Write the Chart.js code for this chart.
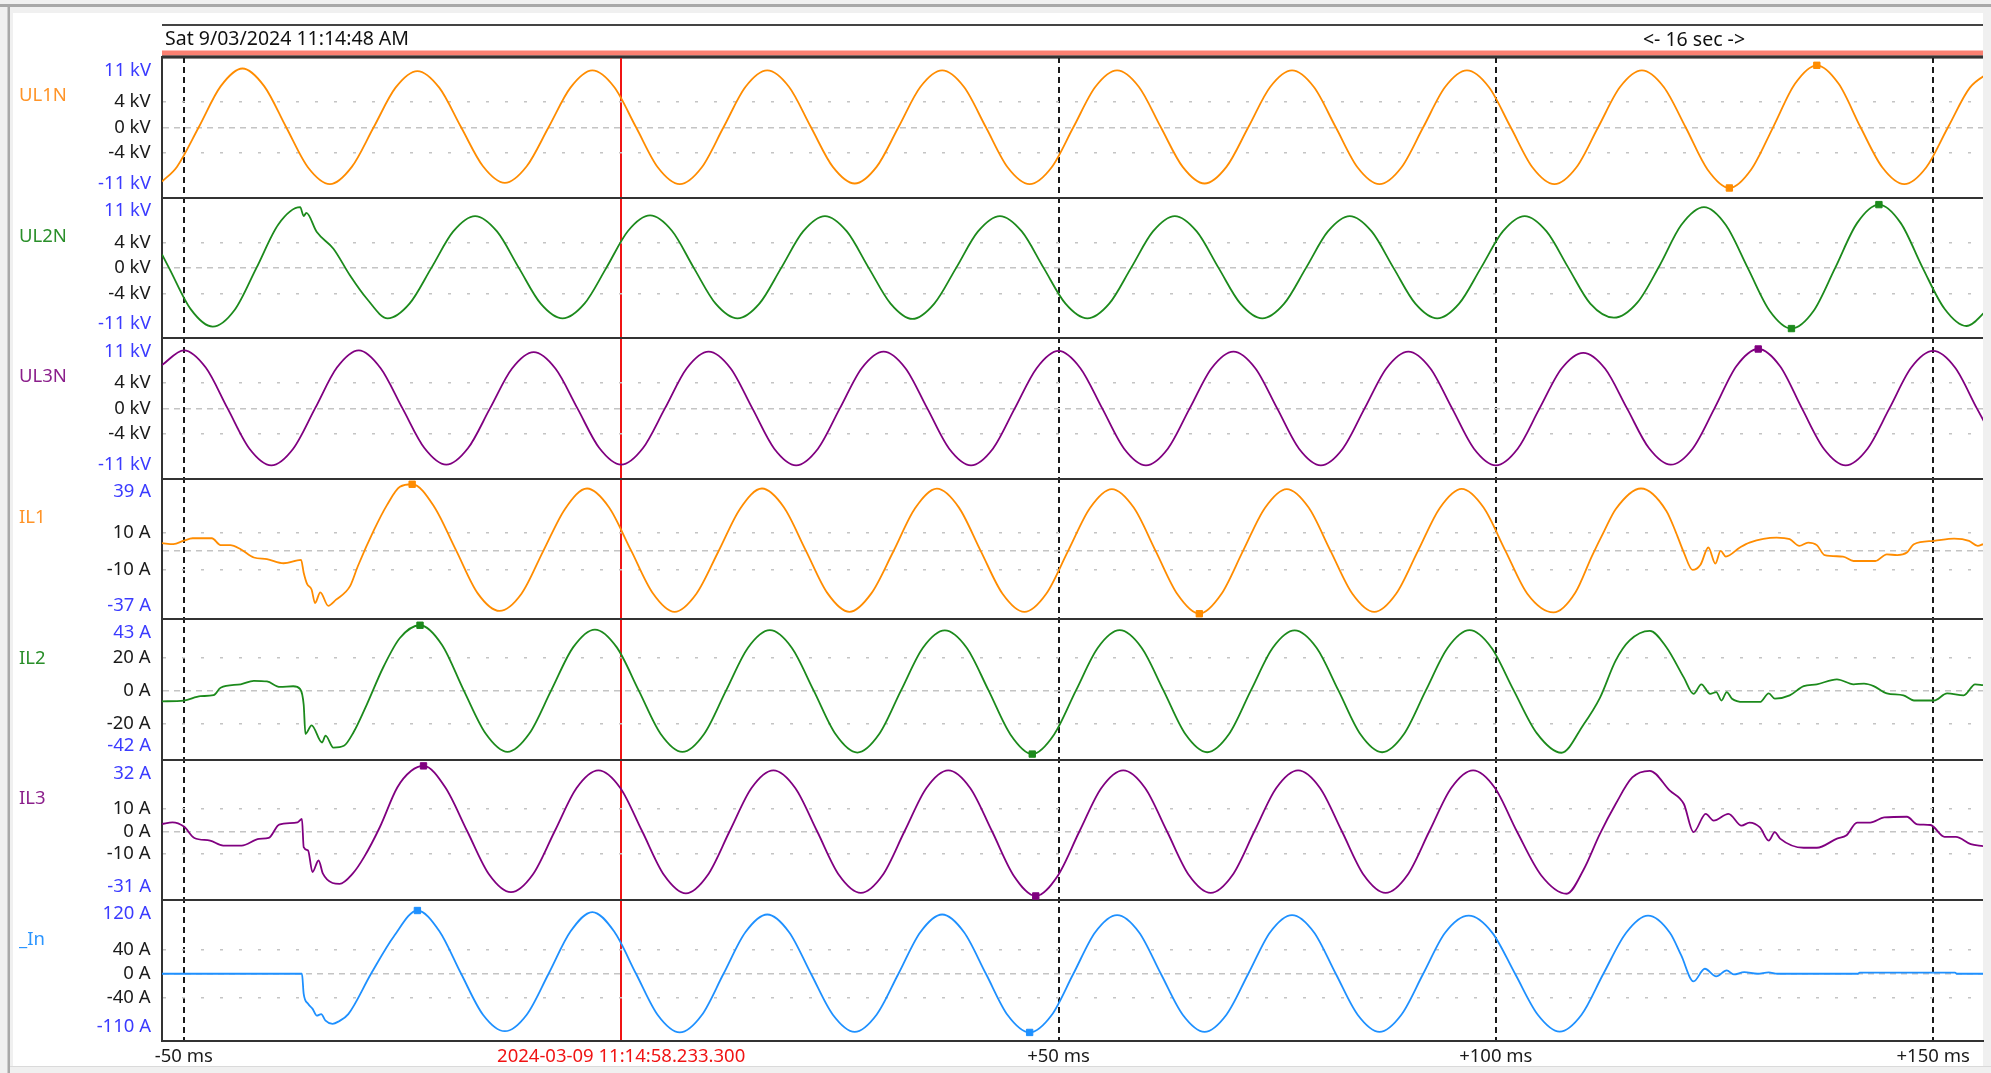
<!DOCTYPE html>
<html>
<head>
  <title>Disturbance record 2024-03-09</title>
  <script src="https://cdn.jsdelivr.net/npm/chart.js"></script>
  <style>
    body {
      margin: 0;
      background-color: #f0f0f0;
      overflow: hidden;
    }
    #scope {
      position: absolute;
      left: 0;
      top: 0;
    }
  </style>
</head>
<body>
  <canvas id="scope" width="1991" height="1073"></canvas>

  <script>
    // time axis, ms relative to the trigger
    const xTicks = [-50, 0, 50, 100, 150];
    const xTickLabels = ['-50 ms', '2024-03-09 11:14:58.233.300', '+50 ms', '+100 ms', '+150 ms'];
    const headerLeft = 'Sat 9/03/2024 11:14:48 AM';
    const headerRight = '<- 16 sec ->';

    const channels = ['UL1N', 'UL2N', 'UL3N', 'IL1', 'IL2', 'IL3', '_In'];
    const units = ['kV', 'kV', 'kV', 'A', 'A', 'A', 'A'];
    const yMax = [11, 11, 11, 39, 43, 32, 120];
    const yMin = [-11, -11, -11, -37, -42, -31, -110];
    const yStep = [4, 4, 4, 10, 20, 10, 40];
    // IL1 has no "0 A" text, only its dashed line
    const zeroLabel = [true, true, true, false, true, true, true];

    // UL1N (kV)
    const ul1nTime = [-52.5, -50.8, -48.3, -45.8, -43.3, -40.8, -38.3, -35.8, -33.3, -30.8,
      -28.3, -25.8, -23.3, -20.8, -18.3, -15.8, -13.3, -10.8, -8.3, -5.8,
      -3.3, -0.8, 1.7, 4.2, 6.7, 9.2, 11.7, 14.2, 16.7, 19.2,
      21.7, 24.2, 26.7, 29.2, 31.7, 34.2, 36.7, 39.2, 41.7, 44.2,
      46.7, 49.2, 51.7, 54.2, 56.7, 59.2, 61.7, 64.2, 66.7, 69.2,
      71.7, 74.2, 76.7, 79.2, 81.7, 84.2, 86.7, 89.2, 91.7, 94.2,
      96.7, 99.2, 101.7, 104.2, 106.7, 109.2, 111.7, 114.2, 116.7, 119.2,
      121.7, 124.2, 126.7, 129.2, 131.7, 134.2, 136.7, 139.2, 141.7, 144.2,
      146.7, 149.2, 151.7, 154.2, 156.7];
    const ul1nKV = [-8.5, -6.2, 0, 6.4, 9.2, 6.4, 0, -6.3, -8.9, -6.2,
      0, 6.2, 8.8, 6.2, 0, -6.1, -8.7, -6.1, 0, 6.2,
      8.9, 6.3, 0, -6.3, -8.9, -6.3, 0, 6.3, 8.9, 6.3,
      0, -6.2, -8.8, -6.2, 0, 6.3, 8.9, 6.3, 0, -6.3,
      -8.9, -6.3, 0, 6.3, 8.9, 6.3, 0, -6.2, -8.8, -6.2,
      0, 6.3, 8.9, 6.3, 0, -6.3, -8.9, -6.3, 0, 6.3,
      8.9, 6.3, 0, -6.3, -8.9, -6.3, 0, 6.3, 8.9, 6.3,
      0, -6.6, -9.5, -6.6, 0, 6.8, 9.7, 6.8, 0, -6.3,
      -8.9, -6.3, 0, 6.2, 8.8];
    const ul1nMarks = [126.7, 136.7];

    // UL2N (kV)
    const ul2nTime = [-52.5, -51.7, -49.2, -46.7, -44.2, -41.7, -39.2, -36.7, -36.3, -36.0,
      -34.8, -32.9, -31.0, -29.1, -26.7, -24.2, -21.7, -19.2, -16.7, -14.2,
      -11.7, -9.2, -6.7, -4.2, -1.7, 0.8, 3.3, 5.8, 8.3, 10.8,
      13.3, 15.8, 18.3, 20.8, 23.3, 25.8, 28.3, 30.8, 33.3, 35.8,
      38.3, 40.8, 43.3, 45.8, 48.3, 50.8, 53.3, 55.8, 58.3, 60.8,
      63.3, 65.8, 68.3, 70.8, 73.3, 75.8, 78.3, 80.8, 83.3, 85.8,
      88.3, 90.8, 93.3, 95.8, 98.3, 100.8, 103.3, 105.8, 108.3, 110.8,
      113.5, 116.2, 118.7, 121.2, 123.8, 126.3, 128.8, 131.3, 133.8, 136.3,
      138.8, 141.3, 143.8, 146.3, 148.8, 151.3, 153.8, 156.3];
    const ul2nKV = [2.1, 0, -6.5, -9.2, -6.6, 0, 6.8, 9.5, 8.1, 8.6,
      5.6, 3.0, -1.2, -4.8, -7.9, -5.6, 0, 5.7, 8.1, 5.7,
      0, -5.6, -7.9, -5.6, 0, 5.8, 8.2, 5.8, 0, -5.6,
      -7.9, -5.6, 0, 5.7, 8.1, 5.7, 0, -5.6, -8.0, -5.6,
      0, 5.7, 8.1, 5.7, 0, -5.6, -7.9, -5.6, 0, 5.7,
      8.1, 5.7, 0, -5.6, -7.9, -5.6, 0, 5.7, 8.1, 5.7,
      0, -5.6, -7.9, -5.6, 0, 5.7, 8.1, 5.7, 0, -5.6,
      -7.8, -5.4, 0.3, 6.7, 9.5, 6.7, 0, -6.7, -9.5, -6.8,
      0, 7.0, 9.9, 7.0, 0, -6.4, -9.1, -6.4];
    const ul2nMarks = [133.8, 143.8];

    // UL3N (kV)
    const ul3nTime = [-52.5, -50, -47.5, -45, -42.5, -40, -37.5, -35, -32.5,
      -30, -27.5, -25, -22.5, -20, -17.5, -15, -12.5,
      -10, -7.5, -5, -2.5, 0, 2.5, 5, 7.5,
      10, 12.5, 15, 17.5, 20, 22.5, 25, 27.5,
      30, 32.5, 35, 37.5, 40, 42.5, 45, 47.5,
      50, 52.5, 55, 57.5, 60, 62.5, 65, 67.5,
      70, 72.5, 75, 77.5, 80, 82.5, 85, 87.5,
      90, 92.5, 95, 97.5, 100, 102.5, 105, 107.5,
      110, 112.5, 115, 117.5, 120, 122.5, 125, 127.5,
      130, 132.5, 135, 137.5, 140, 142.5, 145, 147.5,
      150, 152.5, 155, 157.5];
    const ul3nKV = [6.8, 9.1, 6.4, 0, -6.3, -8.9, -6.3, 0, 6.4,
      9.1, 6.3, 0, -6.2, -8.8, -6.2, 0, 6.2,
      8.8, 6.2, 0, -6.2, -8.8, -6.2, 0, 6.3,
      8.9, 6.3, 0, -6.3, -8.9, -6.3, 0, 6.3,
      8.9, 6.3, 0, -6.3, -8.9, -6.3, 0, 6.3,
      9.0, 6.3, 0, -6.3, -8.9, -6.3, 0, 6.3,
      8.9, 6.3, 0, -6.3, -8.9, -6.3, 0, 6.3,
      8.9, 6.3, 0, -6.3, -8.9, -6.3, 0, 6.2,
      8.7, 6.2, 0, -6.2, -8.8, -6.3, 0, 6.6,
      9.3, 6.6, 0, -6.3, -8.9, -6.3, 0, 6.4,
      9.0, 6.4, 0, -6.3];
    const ul3nMarks = [130];

    // IL1 (A)
    const il1Time = [-52.5, -51.2, -50, -49, -46.8, -45.8, -44.7, -43.5, -42, -40.5,
      -38.6, -36.6, -36.3, -35.9, -35.4, -35, -34.4, -33.5, -32.6, -31,
      -30.1, -28.3, -26.8, -25.3,
      -23.9, -21.4, -18.9, -16.4, -13.9, -11.4, -8.9, -6.4,
      -3.9, -1.4, 1.1, 3.6, 6.1, 8.6, 11.1, 13.6,
      16.1, 18.6, 21.1, 23.6, 26.1, 28.6, 31.1, 33.6,
      36.1, 38.6, 41.1, 43.6, 46.1, 48.6, 51.1, 53.6,
      56.1, 58.6, 61.1, 63.6, 66.1, 68.6, 71.1, 73.6,
      76.1, 78.6, 81.1, 83.6, 86.1, 88.6, 91.1, 93.6,
      96.1, 98.6, 101.1, 103.6, 106.6,
      109.1, 111, 112.4, 113.7, 116.6, 119.5, 120.6, 121.5, 122.5, 123.4,
      124.3, 125.1, 125.7, 126.3, 127.9, 129, 132.1, 133.6, 134.7, 135.7,
      136.7, 137.6, 139.7, 140.9, 143.4, 144.7, 145.9, 147, 147.8, 150.1,
      152.4, 154.1, 155.1, 155.7];
    const il1Amp = [4.2, 3.6, 5.5, 6.8, 6.8, 3.1, 3.1, 0.9, -3.6, -4.5,
      -6.7, -4.9, -11.8, -18, -20.9, -28.2, -22.4, -29.7, -26.4, -19.1,
      -8.2, 10.9, 24.6, 34.6,
      36.0, 24.0, 0.5, -23.0, -32.5, -23.2, 0, 22.8,
      33.7, 23.6, 0.5, -22.8, -33.0, -23.2, -0.5, 22.8,
      33.7, 23.6, 0.3, -23.0, -33.0, -23.0, -0.5, 23.0,
      33.6, 23.5, 0, -23.2, -33.0, -23.2, 0, 23.2,
      33.4, 23.4, 0, -23.5, -34.0, -23.5, 0, 23.2,
      33.4, 23.4, 0, -23.2, -33.0, -23.2, 0, 23.2,
      33.5, 23.4, 0, -23.2, -33.3,
      -22.5, -2.7, 10.8, 22.5, 33.7, 21.6, 9.9, -0.9, -10.3, -7.5,
      1.8, -6.9, 0, -3.1, 1.8, 4.5, 7.2, 6.3, 2.7, 4.5,
      3.1, -2.3, -3.1, -5.5, -5.5, -1.9, -2.3, -0.9, 3.6, 5.4,
      6.6, 5.4, 2.7, 3.6];
    const il1Marks = [-23.9, 66.1];

    // IL2 (A)
    const il2Time = [-52.5, -50, -48.1, -46.6, -45.8, -43.5, -42, -40.5, -39, -37.5,
      -36.7, -36.3, -36.1, -35.4, -34.2, -33.8, -32.9, -31.7, -30.6, -29.1,
      -27.2, -25.3,
      -23, -20.5, -18, -15.5, -13, -10.5, -8, -5.5,
      -3, -0.5, 2, 4.5, 7, 9.5, 12, 14.5,
      17, 19.5, 22, 24.5, 27, 29.5, 32, 34.5,
      37, 39.5, 42, 44.5, 47, 49.5, 52, 54.5,
      57, 59.5, 62, 64.5, 67, 69.5, 72, 74.5,
      77, 79.5, 82, 84.5, 87, 89.5, 92, 94.5,
      97, 99.5, 102, 104.7, 107.5,
      110, 111.9, 113.7, 115.3, 117.6, 119.5, 121.5, 122.6, 123.5, 124.5,
      125.2, 125.8, 126.4, 127, 128.3, 130.2, 131.2, 131.9, 133.6, 135.2,
      136.7, 139, 140.9, 142.1, 143.2, 144.7, 146.6, 147.8, 150.1, 151.6,
      153.5, 154.8, 155.7];
    const il2Amp = [-6.6, -6.2, -3.5, -2.9, 1.6, 3.7, 5.8, 5.4, 2.1, 2.5,
      0.8, -8.7, -26.3, -21.1, -31.5, -27.3, -34.6, -33.5, -25.3, -8.7,
      14, 31.7,
      39.4, 27.6, 0, -26.1, -37.2, -26.1, 0, 26.0,
      36.8, 26.0, 0, -26.2, -37.2, -26.2, 0, 25.8,
      36.4, 25.8, 0, -26.4, -37.6, -26.4, 0, 25.8,
      36.3, 25.8, 0, -26.6, -38.5, -26.6, 0, 25.8,
      36.4, 25.8, 0, -26.4, -37.4, -26.4, 0, 25.8,
      36.3, 25.8, 0, -26.4, -37.4, -26.4, 0, 25.8,
      36.4, 25.8, 0.5, -26.0, -37.7,
      -20.9, -4.5, 18, 30.2, 36, 26.1, 7.7, -2.1, 3.7, -2.1,
      -1, -6.1, -1, -5, -7, -7, -1.8, -5, -3, 2.6,
      3.7, 6.7, 3.7, 4.1, 2.6, -1.8, -3, -6.1, -6.1, -1.8,
      -3, 3.7, 3.2];
    const il2Marks = [-23, 47];

    // IL3 (A)
    const il3Time = [-52.5, -51.3, -50, -48.8, -47, -45.5, -43.4, -41.4, -40.3, -39.1,
      -37, -36.5, -36.3, -35.8, -35.3, -34.6, -34.1, -33, -32.2, -30.7,
      -29.4, -27.6, -25.6, -24,
      -22.6, -20.1, -17.6, -15.1, -12.6, -10.1, -7.6, -5.1,
      -2.6, -0.1, 2.4, 4.9, 7.4, 9.9, 12.4, 14.9,
      17.4, 19.9, 22.4, 24.9, 27.4, 29.9, 32.4, 34.9,
      37.4, 39.9, 42.4, 44.9, 47.4, 49.9, 52.4, 54.9,
      57.4, 59.9, 62.4, 64.9, 67.4, 69.9, 72.4, 74.9,
      77.4, 79.9, 82.4, 84.9, 87.4, 89.9, 92.4, 94.9,
      97.4, 99.9, 102.4, 105.2, 108.1,
      110, 111.9, 113.7, 115.6, 117.6, 119.9, 121.5, 122.6, 124, 124.9,
      126.6, 128.1, 129, 130.2, 131.2, 131.9, 132.5, 135.2, 136.7, 139,
      140.1, 141.3, 142.8, 144.4, 147, 148.2, 149.7, 151.3, 152.6, 154.3,
      155.7];
    const il3Amp = [3.3, 4.0, 2.1, -3.0, -4.2, -6.4, -6.4, -3.4, -3.0, 3.0,
      4.0, 5.5, -7.1, -8.6, -18.3, -13.1, -19, -23.2, -23.6, -19,
      -11.6, 1.8, 19.6, 27.1,
      29.3, 19.6, 0, -19.4, -27.3, -19.4, 0, 19.4,
      27.3, 19.4, 0, -19.6, -27.8, -19.6, 0, 19.4,
      27.3, 19.4, 0, -19.6, -27.6, -19.6, 0, 19.4,
      27.3, 19.4, 0, -20.0, -29.0, -20.0, 0, 19.4,
      27.3, 19.4, 0, -19.6, -27.6, -19.6, 0, 19.4,
      27.3, 19.4, 0, -19.6, -27.6, -19.6, 0, 19.4,
      27.3, 19.4, 0, -19.8, -28.0,
      -17.5, -1.2, 12.2, 24.1, 27.1, 18.2, 12.2, -0.4, 7.8, 4.8,
      7.8, 2.5, 3.9, 1.7, -4.2, -0.4, -3.3, -7.4, -7.4, -3.3,
      -1.8, 3.9, 3.9, 6.2, 6.5, 3.1, 2.8, -2.5, -2.5, -5.8,
      -6.7];
    const il3Marks = [-22.6, 47.4];

    // _In (A)
    const inTime = [-52.5, -36.5, -36.3, -35.8, -35.3, -34.8, -34.3, -33.8, -33, -32.3,
      -31.2, -28.6, -26,
      -23.3, -20.8, -18.3, -15.8, -13.3, -10.8, -8.3, -5.8,
      -3.3, -0.8, 1.7, 4.2, 6.7, 9.2, 11.7, 14.2,
      16.7, 19.2, 21.7, 24.2, 26.7, 29.2, 31.7, 34.2,
      36.7, 39.2, 41.7, 44.2, 46.7, 49.2, 51.7, 54.2,
      56.7, 59.2, 61.7, 64.2, 66.7, 69.2, 71.7, 74.2,
      76.7, 79.2, 81.7, 84.2, 86.7, 89.2, 91.7, 94.2,
      96.9, 99.6, 102.2, 104.8, 107.3, 109.8, 112.3, 114.9,
      117.4, 119.9, 121.2,
      122.6, 123.9, 125.2, 126.4, 127.2, 128.4, 129.9, 131.2, 132.2, 141.4,
      141.6, 152.5, 152.7, 155.7];
    const inAmp = [0, 0, -32.8, -49, -57, -68.5, -66, -76.7, -82, -78,
      -66, 0, 61,
      103.5, 70, 0, -67, -94, -67, 0, 69,
      101, 69, 0, -68, -96, -68, 0, 68,
      97, 68, 0, -67, -95, -67, 0, 68,
      97, 68, 0, -68, -96, -68, 0, 68,
      96, 68, 0, -67, -95, -67, 0, 68,
      96, 68, 0, -67, -95, -67, 0, 67,
      95, 67, 0, -67, -94.6, -67, 0, 67,
      95, 67, 30,
      -12.6, 8.2, -4.4, 5.5, -1.1, 2.7, 0, 2.2, 0, 0,
      2, 2, 0, 0];
    const inMarks = [-23.3, 46.7];

    const series = [
      { t: ul1nTime, v: ul1nKV, marks: ul1nMarks },
      { t: ul2nTime, v: ul2nKV, marks: ul2nMarks },
      { t: ul3nTime, v: ul3nKV, marks: ul3nMarks },
      { t: il1Time, v: il1Amp, marks: il1Marks },
      { t: il2Time, v: il2Amp, marks: il2Marks },
      { t: il3Time, v: il3Amp, marks: il3Marks },
      { t: inTime, v: inAmp, marks: inMarks },
    ];

    const lineColors = ['#ff8c00', '#1c8a1c', '#800080', '#ff8c00', '#1c8a1c', '#800080', '#1e90ff'];
    const nameColors = ['#ff9428', '#2a8f2a', '#8b1f8b', '#ff9428', '#2a8f2a', '#8b1f8b', '#2b95ff'];
    const rangeColor = '#3b3bff';
    const triggerColor = '#f01414';
    const labelFont = { family: 'Noto Sans', size: 18.5 };

    Chart.defaults.font.family = 'Noto Sans';

    // window frame, header strip, channel names and range labels
    const scopeFrame = {
      id: 'scopeFrame',
      beforeDraw(chart) {
        const ctx = chart.ctx;
        const area = chart.chartArea;
        ctx.save();
        ctx.fillStyle = '#f0f0f0';
        ctx.fillRect(0, 0, chart.width, chart.height);
        ctx.fillStyle = '#ffffff';
        ctx.fillRect(13, 13, area.right - 13, 1053);
        ctx.fillStyle = '#a8a8a8';
        ctx.fillRect(0, 4, chart.width, 3);
        ctx.fillRect(7.5, 4, 2.5, chart.height - 4);
        ctx.fillStyle = '#dadada';
        ctx.fillRect(10, 1066, chart.width - 10, 1);

        ctx.strokeStyle = '#444';
        ctx.lineWidth = 2;
        ctx.beginPath();
        ctx.moveTo(area.left, 25);
        ctx.lineTo(area.right, 25);
        ctx.stroke();
        ctx.fillStyle = '#fa8072';
        ctx.fillRect(area.left, 50.5, area.right - area.left, 5);
        ctx.fillStyle = '#111';
        ctx.fillRect(area.left, 55.5, area.right - area.left, 3);

        ctx.font = '19.5px "Noto Sans"';
        ctx.textBaseline = 'middle';
        ctx.fillStyle = '#111';
        ctx.textAlign = 'left';
        ctx.fillText(headerLeft, area.left + 3, 39);
        ctx.textAlign = 'center';
        ctx.fillText(headerRight, 1694, 40);
        ctx.restore();
      },
      afterDraw(chart) {
        const ctx = chart.ctx;
        ctx.save();
        ctx.font = '18.5px "Noto Sans"';
        ctx.textBaseline = 'middle';
        channels.forEach((name, i) => {
          const s = chart.scales['y' + i];
          ctx.textAlign = 'left';
          ctx.fillStyle = nameColors[i];
          ctx.fillText(name, 19, s.top + 39);
          ctx.textAlign = 'right';
          ctx.fillStyle = rangeColor;
          ctx.fillText(yMax[i] + ' ' + units[i], 151, s.top + 13.5);
          ctx.fillText(yMin[i] + ' ' + units[i], 151, s.bottom - 14);
        });
        ctx.restore();
      }
    };

    function panelScale(i) {
      const isEdge = v => v === yMin[i] || v === yMax[i];
      return {
        type: 'linear',
        position: 'left',
        stack: 'panels',
        stackWeight: 1,
        weight: 7 - i,
        min: yMin[i],
        max: yMax[i],
        afterBuildTicks: s => {
          s.ticks = [yMin[i], -yStep[i], 0, yStep[i], yMax[i]].map(value => ({ value }));
        },
        afterFit: s => { s.width = 162; },
        ticks: {
          autoSkip: false,
          padding: 11.5,
          color: '#1a1a1a',
          font: labelFont,
          callback: v => {
            if (isEdge(v) || (v === 0 && !zeroLabel[i])) return '';
            return v + ' ' + units[i];
          },
        },
        grid: {
          drawTicks: false,
          color: ctx => ctx.tick && isEdge(ctx.tick.value) ? '#333' : '#c4c4c4',
          lineWidth: ctx => ctx.tick && isEdge(ctx.tick.value) ? 2 : 1.5,
        },
        border: {
          display: true,
          color: '#333',
          width: 2,
          dash: ctx => {
            if (!ctx.tick || isEdge(ctx.tick.value)) return [];
            return ctx.tick.value === 0 ? [6, 5] : [3, 16];
          },
        },
      };
    }

    const scales = {
      x: {
        type: 'linear',
        position: 'bottom',
        min: -52.5,
        max: 155.7,
        afterBuildTicks: s => { s.ticks = xTicks.map(value => ({ value })); },
        afterFit: s => { s.height = 32; },
        ticks: {
          autoSkip: false,
          maxRotation: 0,
          padding: 5,
          font: labelFont,
          color: ctx => ctx.tick && ctx.tick.value === 0 ? triggerColor : '#1a1a1a',
          callback: v => xTickLabels[xTicks.indexOf(v)],
        },
        grid: {
          drawTicks: false,
          color: ctx => ctx.tick && ctx.tick.value === 0 ? triggerColor : '#1a1a1a',
          lineWidth: 2,
        },
        border: {
          display: true,
          color: '#333',
          width: 2,
          dash: ctx => ctx.tick && ctx.tick.value !== 0 ? [6, 4] : [],
        },
      },
    };
    channels.forEach((name, i) => { scales['y' + i] = panelScale(i); });

    const datasets = series.map((s, i) => ({
      label: channels[i],
      yAxisID: 'y' + i,
      data: s.t.map((x, k) => ({ x: x, y: s.v[k] })),
      borderColor: lineColors[i],
      backgroundColor: lineColors[i],
      borderWidth: 1.8,
      cubicInterpolationMode: 'monotone',
      pointStyle: 'rect',
      pointBorderWidth: 1,
      pointRadius: ctx => s.marks.includes(s.t[ctx.dataIndex]) ? 4.5 : 0,
      pointHoverRadius: 0,
    }));

    new Chart(document.getElementById('scope'), {
      type: 'line',
      data: { datasets },
      options: {
        responsive: false,
        animation: false,
        devicePixelRatio: 1,
        layout: { padding: { top: 57, right: 8, bottom: 0, left: 0 } },
        scales,
        plugins: {
          legend: { display: false },
          tooltip: { enabled: false },
        },
      },
      plugins: [scopeFrame],
    });
  </script>
</body>
</html>
